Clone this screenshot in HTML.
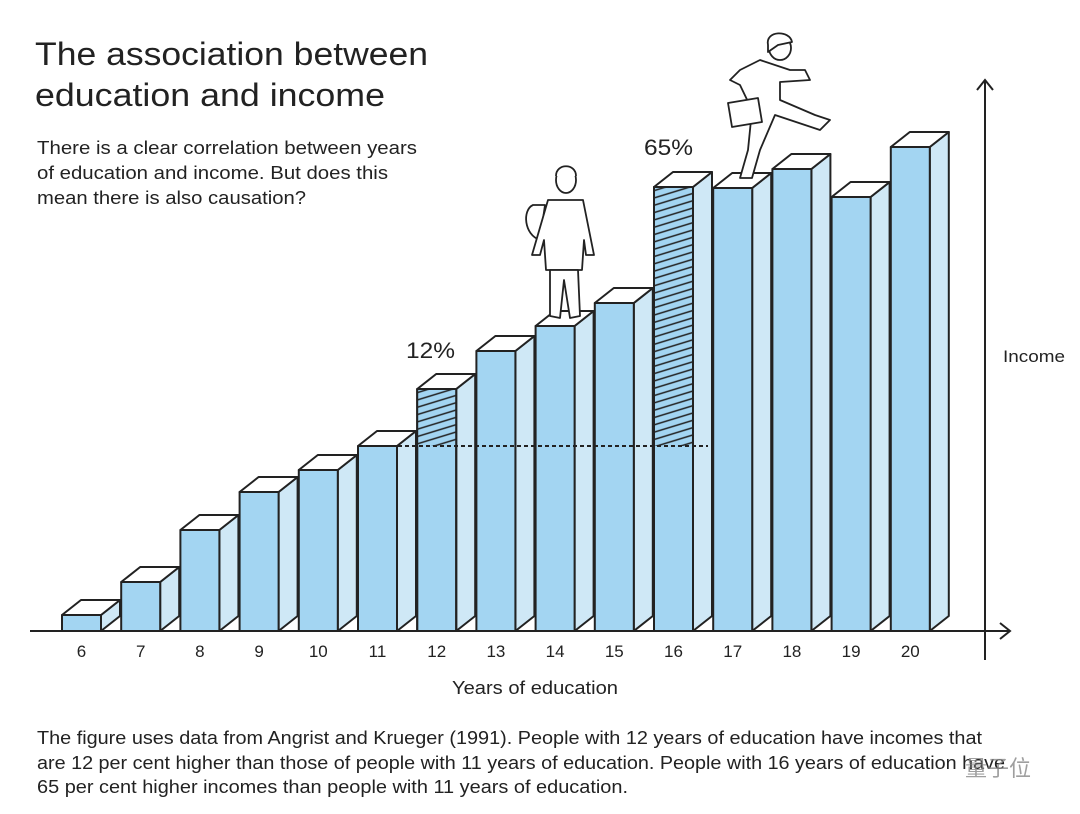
<!DOCTYPE html>
<html><head><meta charset="utf-8"><style>
body{margin:0;background:#fff;}
svg{display:block;font-family:"Liberation Sans","Noto Sans CJK SC",sans-serif;}
</style></head><body>
<svg width="1080" height="814" viewBox="0 0 1080 814">
<defs>
<pattern id="h" width="20" height="7" patternUnits="userSpaceOnUse" patternTransform="rotate(-17)">
<rect width="20" height="7" fill="#a3d5f2"/>
<line x1="0" y1="3.5" x2="20" y2="3.5" stroke="#222" stroke-width="1.6"/>
</pattern>
</defs>
<text x="35" y="65" font-size="32" fill="#222" textLength="393" lengthAdjust="spacingAndGlyphs">The association between</text>
<text x="35" y="106" font-size="32" fill="#222" textLength="350" lengthAdjust="spacingAndGlyphs">education and income</text>
<g font-size="18" fill="#222" lengthAdjust="spacingAndGlyphs">
<text x="37" y="154" textLength="380" lengthAdjust="spacingAndGlyphs">There is a clear correlation between years</text>
<text x="37" y="179" textLength="351" lengthAdjust="spacingAndGlyphs">of education and income. But does this</text>
<text x="37" y="204" textLength="269" lengthAdjust="spacingAndGlyphs">mean there is also causation?</text>
<text x="37" y="744" textLength="945" lengthAdjust="spacingAndGlyphs">The figure uses data from Angrist and Krueger (1991). People with 12 years of education have incomes that</text>
<text x="37" y="769" textLength="968" lengthAdjust="spacingAndGlyphs">are 12 per cent higher than those of people with 11 years of education. People with 16 years of education have</text>
<text x="37" y="793" textLength="591" lengthAdjust="spacingAndGlyphs">65 per cent higher incomes than people with 11 years of education.</text>
</g>
<g stroke="#222" stroke-width="2" stroke-linejoin="round">
<g transform="translate(62,615)"><polygon points="39,0 58,-15 58,1 39,16" fill="#cfe8f6"/><polygon points="0,0 19,-15 58,-15 39,0" fill="#fff"/><rect width="39" height="16" fill="#a3d5f2"/></g>
<g transform="translate(121.2,582)"><polygon points="39,0 58,-15 58,34 39,49" fill="#cfe8f6"/><polygon points="0,0 19,-15 58,-15 39,0" fill="#fff"/><rect width="39" height="49" fill="#a3d5f2"/></g>
<g transform="translate(180.4,530)"><polygon points="39,0 58,-15 58,86 39,101" fill="#cfe8f6"/><polygon points="0,0 19,-15 58,-15 39,0" fill="#fff"/><rect width="39" height="101" fill="#a3d5f2"/></g>
<g transform="translate(239.6,492)"><polygon points="39,0 58,-15 58,124 39,139" fill="#cfe8f6"/><polygon points="0,0 19,-15 58,-15 39,0" fill="#fff"/><rect width="39" height="139" fill="#a3d5f2"/></g>
<g transform="translate(298.8,470)"><polygon points="39,0 58,-15 58,146 39,161" fill="#cfe8f6"/><polygon points="0,0 19,-15 58,-15 39,0" fill="#fff"/><rect width="39" height="161" fill="#a3d5f2"/></g>
<g transform="translate(358,446)"><polygon points="39,0 58,-15 58,170 39,185" fill="#cfe8f6"/><polygon points="0,0 19,-15 58,-15 39,0" fill="#fff"/><rect width="39" height="185" fill="#a3d5f2"/></g>
<g transform="translate(417.2,389)"><polygon points="39,0 58,-15 58,227 39,242" fill="#cfe8f6"/><polygon points="0,0 19,-15 58,-15 39,0" fill="#fff"/><rect width="39" height="242" fill="#a3d5f2"/><rect width="39" height="57" fill="url(#h)" stroke="none"/><rect width="39" height="242" fill="none"/></g>
<g transform="translate(476.4,351)"><polygon points="39,0 58,-15 58,265 39,280" fill="#cfe8f6"/><polygon points="0,0 19,-15 58,-15 39,0" fill="#fff"/><rect width="39" height="280" fill="#a3d5f2"/></g>
<g transform="translate(535.6,326)"><polygon points="39,0 58,-15 58,290 39,305" fill="#cfe8f6"/><polygon points="0,0 19,-15 58,-15 39,0" fill="#fff"/><rect width="39" height="305" fill="#a3d5f2"/></g>
<g transform="translate(594.8,303)"><polygon points="39,0 58,-15 58,313 39,328" fill="#cfe8f6"/><polygon points="0,0 19,-15 58,-15 39,0" fill="#fff"/><rect width="39" height="328" fill="#a3d5f2"/></g>
<g transform="translate(654,187)"><polygon points="39,0 58,-15 58,429 39,444" fill="#cfe8f6"/><polygon points="0,0 19,-15 58,-15 39,0" fill="#fff"/><rect width="39" height="444" fill="#a3d5f2"/><rect width="39" height="259" fill="url(#h)" stroke="none"/><rect width="39" height="444" fill="none"/></g>
<g transform="translate(713.2,188)"><polygon points="39,0 58,-15 58,428 39,443" fill="#cfe8f6"/><polygon points="0,0 19,-15 58,-15 39,0" fill="#fff"/><rect width="39" height="443" fill="#a3d5f2"/></g>
<g transform="translate(772.4,169)"><polygon points="39,0 58,-15 58,447 39,462" fill="#cfe8f6"/><polygon points="0,0 19,-15 58,-15 39,0" fill="#fff"/><rect width="39" height="462" fill="#a3d5f2"/></g>
<g transform="translate(831.6,197)"><polygon points="39,0 58,-15 58,419 39,434" fill="#cfe8f6"/><polygon points="0,0 19,-15 58,-15 39,0" fill="#fff"/><rect width="39" height="434" fill="#a3d5f2"/></g>
<g transform="translate(890.8,147)"><polygon points="39,0 58,-15 58,469 39,484" fill="#cfe8f6"/><polygon points="0,0 19,-15 58,-15 39,0" fill="#fff"/><rect width="39" height="484" fill="#a3d5f2"/></g>
</g>
<line x1="398" y1="446" x2="708" y2="446" stroke="#222" stroke-width="2" stroke-dasharray="4,3"/>
<g stroke="#222" stroke-width="2" fill="none">
<line x1="30" y1="631" x2="1010" y2="631"/>
<polyline points="1000,623 1010,631 1000,639"/>
<line x1="985" y1="80" x2="985" y2="660"/>
<polyline points="977,90 985,80 993,90"/>
</g>
<g font-size="17" fill="#222" text-anchor="middle">
<text x="81.5" y="657">6</text><text x="140.7" y="657">7</text><text x="199.9" y="657">8</text><text x="259.1" y="657">9</text><text x="318.3" y="657">10</text><text x="377.5" y="657">11</text><text x="436.7" y="657">12</text><text x="495.9" y="657">13</text><text x="555.1" y="657">14</text><text x="614.3" y="657">15</text><text x="673.5" y="657">16</text><text x="732.7" y="657">17</text><text x="791.9" y="657">18</text><text x="851.1" y="657">19</text><text x="910.3" y="657">20</text>
</g>
<text x="452" y="694" font-size="18" fill="#222" textLength="166" lengthAdjust="spacingAndGlyphs">Years of education</text>
<text x="1003" y="362" font-size="17" fill="#222" textLength="62" lengthAdjust="spacingAndGlyphs">Income</text>
<text x="406" y="358" font-size="22" fill="#222" textLength="49" lengthAdjust="spacingAndGlyphs">12%</text>
<text x="644" y="155" font-size="22" fill="#222" textLength="49" lengthAdjust="spacingAndGlyphs">65%</text>
<!-- standing man -->
<g stroke="#222" stroke-width="1.8" fill="#fff" stroke-linejoin="round">
<path d="M533,205 C522,210 524,235 540,240 L545,205 Z"/>
<path d="M548,200 L583,200 L594,255 L586,255 L584,240 L582,270 L546,270 L544,240 L540,255 L532,255 Z"/>
<path d="M550,270 L550,316 L560,318 L564,280 L570,318 L580,316 L578,270 Z"/>
<ellipse cx="566" cy="180" rx="10" ry="13"/>
<path d="M556,176 C556,163 576,163 576,176" fill="#fff"/>
</g>
<!-- walking woman -->
<g stroke="#222" stroke-width="1.8" fill="#fff" stroke-linejoin="round">
<path d="M760,60 L790,70 L805,70 L810,80 L780,82 L780,100 L815,115 L830,120 L820,130 L805,125 L775,115 L760,150 L752,178 L740,178 L748,150 L752,110 L740,85 L730,80 L740,70 Z"/>
<path d="M728,103 L758,98 L762,122 L732,127 Z"/>
<ellipse cx="780" cy="48" rx="11" ry="12"/>
<path d="M768,45 C765,30 790,30 792,42 L778,45 L768,52 Z"/>
</g>
<text x="965" y="776" font-size="22" fill="#888" opacity="0.8">量子位</text>
</svg>
</body></html>
